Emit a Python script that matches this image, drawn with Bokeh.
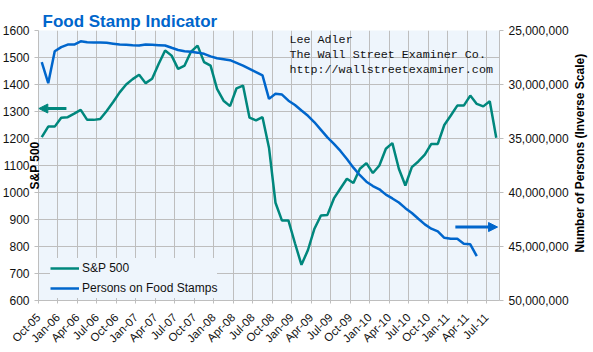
import numpy as np
from math import pi
from bokeh.plotting import figure
from bokeh.layouts import row
from bokeh.models import (Range1d, LinearAxis, FixedTicker, NumeralTickFormatter,
                          Label, Arrow, NormalHead, Legend, LegendItem)
from bokeh.embed import file_html
from bokeh.resources import INLINE

# ---------------- data (monthly, Oct-05 .. Aug-11) ----------------
tick_labels = ["Oct-05", "Jan-06", "Apr-06", "Jul-06", "Oct-06", "Jan-07", "Apr-07", "Jul-07",
               "Oct-07", "Jan-08", "Apr-08", "Jul-08", "Oct-08", "Jan-09", "Apr-09", "Jul-09",
               "Oct-09", "Jan-10", "Apr-10", "Jul-10", "Oct-10", "Jan-11", "Apr-11", "Jul-11"]

sp500 = [1205, 1244, 1244, 1277, 1279, 1292, 1306, 1269, 1269, 1272,
         1302, 1335, 1371, 1400, 1420, 1436, 1405, 1421, 1476, 1526,
         1507, 1458, 1470, 1522, 1544, 1483, 1470, 1384, 1340, 1320,
         1386, 1396, 1277, 1267, 1279, 1166, 962, 896, 896, 812,
         732, 787, 866, 915, 917, 978, 1015, 1051, 1035, 1088,
         1109, 1072, 1100, 1162, 1183, 1088, 1026, 1094, 1115, 1140,
         1180, 1180, 1250, 1285, 1322, 1322, 1359, 1328, 1319, 1338,
         1203]

food_stamps = [27.93, 29.88, 26.92, 26.54, 26.30, 26.30, 26.00, 26.08, 26.10, 26.12,
               26.14, 26.22, 26.30, 26.33, 26.37, 26.39, 26.30, 26.33, 26.36, 26.39,
               26.60, 26.80, 26.92, 26.97, 27.05, 27.16, 27.40, 27.57, 27.66, 27.75,
               28.00, 28.25, 28.55, 28.85, 29.15, 31.33, 30.86, 30.93, 31.50, 31.90,
               32.41, 32.90, 33.50, 34.20, 34.90, 35.50, 36.15, 36.90, 37.70, 38.40,
               39.00, 39.40, 39.70, 40.20, 40.55, 40.93, 41.45, 41.90, 42.43, 42.95,
               43.35, 43.60, 44.20, 44.29, 44.29, 44.75, 44.80, 45.90]  # millions

n_months = 71
x_sp = np.arange(len(sp500)) + 0.5
x_fs = np.arange(len(food_stamps)) + 0.5
fs_persons = np.array(food_stamps) * 1e6

TEAL = "#00877D"
BLUE = "#0066CC"
GRID = "#BEBEBE"
BG = "#EEF5FC"
FONT = "Liberation Sans"

p = figure(width=571, height=352, output_backend="svg", toolbar_location=None,
           x_range=Range1d(0, n_months), y_range=Range1d(600, 1600),
           min_border_left=38, min_border_right=72, min_border_top=30, min_border_bottom=52,
           background_fill_color=BG, border_fill_color="white", outline_line_color=None)

p.title.text = "Food Stamp Indicator"
p.title.text_font = FONT
p.title.text_font_size = "17px"
p.title.text_font_style = "bold"
p.title.text_color = BLUE
p.title.align = "left"
p.title.offset = 4
p.title.standoff = 0

p.extra_y_ranges = {"persons": Range1d(start=50e6, end=25e6)}

# axes
p.xaxis.ticker = FixedTicker(ticks=list(range(0, 70, 3)))
p.xaxis.major_label_overrides = {i * 3: lab for i, lab in enumerate(tick_labels)}
p.xaxis.major_label_orientation = pi / 4
p.yaxis.ticker = FixedTicker(ticks=list(range(600, 1601, 100)))

ra = LinearAxis(y_range_name="persons",
                ticker=FixedTicker(ticks=[25e6, 30e6, 35e6, 40e6, 45e6, 50e6]),
                formatter=NumeralTickFormatter(format="0,0"))
p.add_layout(ra, "right")

for ax in [p.xaxis[0], p.yaxis[0], ra]:
    ax.axis_line_color = GRID
    ax.major_tick_line_color = GRID
    ax.minor_tick_line_color = None
    ax.major_label_text_font = FONT
    ax.major_label_text_font_size = "12px"
    ax.major_label_text_color = "#111111"
    ax.major_tick_out = 4
    ax.major_tick_in = 0
    ax.major_label_standoff = 5
    ax.axis_label_text_font = FONT
    ax.axis_label_text_font_size = "12px"
    ax.axis_label_text_font_style = "bold"
    ax.axis_label_text_color = "#000000"
p.xaxis.major_tick_in = 3
p.xaxis.major_tick_out = 3
p.xaxis.major_label_standoff = 12
p.xaxis.major_label_text_font_size = "11.5px"

p.yaxis[0].axis_label = "S&P 500"
p.yaxis[0].axis_label_standoff = -42

p.xgrid.ticker = FixedTicker(ticks=list(range(3, 72, 3)))
p.xgrid.grid_line_color = GRID
p.ygrid.grid_line_color = GRID

# lines
r_sp = p.line(x_sp, sp500, line_color=TEAL, line_width=2.5)
r_fs = p.line(x_fs, fs_persons, line_color=BLUE, line_width=2.5, y_range_name="persons")

legend = Legend(items=[LegendItem(label="S&P 500", renderers=[r_sp]),
                       LegendItem(label="Persons on Food Stamps", renderers=[r_fs])],
                location=(12, 2), margin=0, padding=3, spacing=0,
                glyph_width=29, glyph_height=20, label_height=20, label_standoff=3,
                label_text_font=FONT, label_text_font_size="12px", label_text_color="#111111",
                background_fill_color=BG, background_fill_alpha=1.0, border_line_color=None)
p.add_layout(legend)

# arrows
p.add_layout(Arrow(end=NormalHead(size=9, fill_color=TEAL, line_color=TEAL),
                   x_start=4.3, y_start=1311, x_end=0.05, y_end=1311,
                   line_color=TEAL, line_width=3))
p.add_layout(Arrow(end=NormalHead(size=9, fill_color=BLUE, line_color=BLUE),
                   x_start=64.2, y_start=872, x_end=70.7, y_end=872,
                   line_color=BLUE, line_width=3))

# credit text inside the plot area
for txt, yy in [("Lee Adler", 1563), ("The Wall Street Examiner Co.", 1510),
                ("http://wallstreetexaminer.com", 1452)]:
    p.add_layout(Label(x=38.66, y=yy, text=txt, text_font="Liberation Mono",
                       text_font_size="11.7px", text_color="#111111", text_baseline="middle"))

# narrow strip on the right carrying the secondary axis title (reads bottom-to-top)
q = figure(width=22, height=352, output_backend="svg", toolbar_location=None,
           x_range=Range1d(0, 22), y_range=Range1d(0, 352),
           x_axis_type=None, y_axis_type=None, min_border=0,
           background_fill_color="white", border_fill_color="white", outline_line_color=None)
q.grid.visible = False
q.add_layout(Label(x=8, y=192, text="Number of Persons (Inverse Scale)", angle=pi / 2,
                   text_font=FONT, text_font_size="12px", text_font_style="bold",
                   text_color="#000000", text_align="center", text_baseline="middle"))

layout = row(p, q, spacing=0)
open("out.html", "w").write(file_html(layout, INLINE))
